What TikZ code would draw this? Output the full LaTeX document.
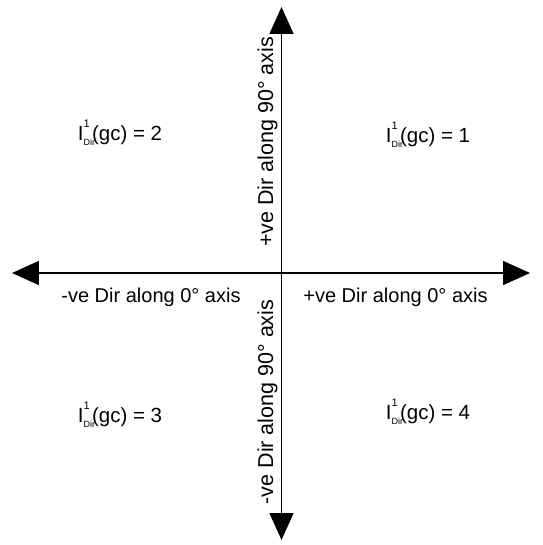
\documentclass[tikz,border=0pt]{standalone}
\usepackage{fontspec}
\setmainfont{Liberation Sans}
\usetikzlibrary{arrows.meta}
\tikzset{
  axislbl/.style={font=\fontsize{20}{24}\selectfont, inner sep=0pt},
  vaxislbl/.style={font=\fontsize{21.5}{25}\selectfont, inner sep=0pt, rotate=90},
  quadlbl/.style={font=\fontsize{20.5}{24}\selectfont, inner sep=0pt}
}
\newcommand\Idir{I\rlap{\raisebox{0.62em}{\fontsize{11}{11}\selectfont 1}}\raisebox{-0.25em}{\fontsize{9}{9}\selectfont Dir}\kern-3pt}

\begin{document}
\begin{tikzpicture}[x=1pt,y=1pt,
% big solid heads at both ends of each axis
axis/.style={{Triangle[length=27pt,width=24pt]}-{Triangle[length=27pt,width=24pt]}, line width=1.6pt}]

\useasboundingbox (-281.5,-272) rectangle (260.5,273);

\coordinate (o) at (0,0);
\coordinate (west) at (-269.5,0);
\coordinate (east) at (248.5,0);
\coordinate (north) at (0,266);
\coordinate (south) at (0,-267);

\draw[axis] (west) -- (east);
\draw[axis] (south) -- (north);

\node[axislbl] (negx) at (-130.5,-24) {-ve Dir along 0° axis};
\node[axislbl] (posx) at (114,-24) {+ve Dir along 0° axis};
\node[vaxislbl] (posy) at (-14,131) {+ve Dir along 90° axis};
\node[vaxislbl] (negy) at (-14,-129) {-ve Dir along 90° axis};

\node[quadlbl] (q1) at (146.5,138) {\Idir(gc) = 1};
\node[quadlbl] (q2) at (-161.5,140) {\Idir(gc) = 2};
\node[quadlbl] (q3) at (-161.5,-142) {\Idir(gc) = 3};
\node[quadlbl] (q4) at (146.5,-139) {\Idir(gc) = 4};
\end{tikzpicture}
\end{document}
